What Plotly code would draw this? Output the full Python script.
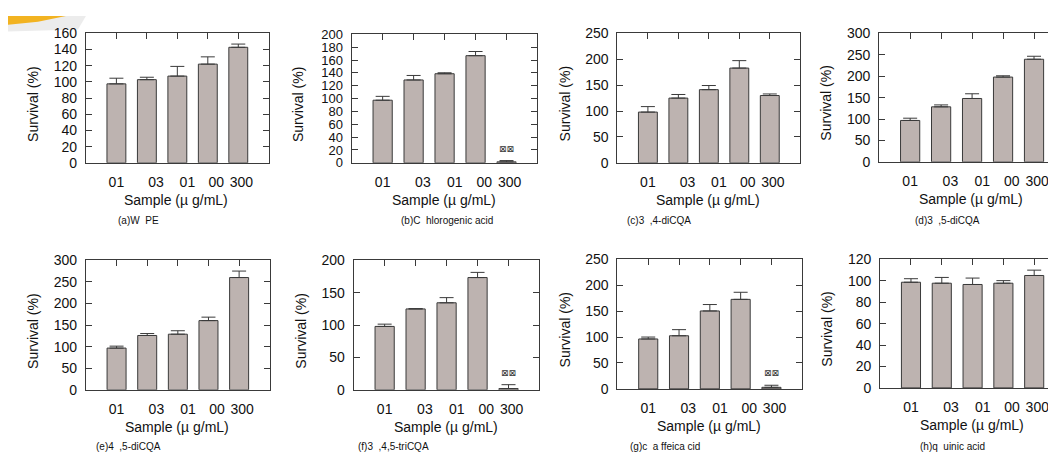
import plotly.graph_objects as go

W, H = 1056, 471

# ---------------- data ----------------
categories = ["01", "03", "01", "00", "300"]   # tick labels as printed
bar_index = [1, 2, 3, 4, 5]

captions = ["(a)W  PE", "(b)C  hlorogenic acid", "(c)3  ,4-diCQA", "(d)3  ,5-diCQA",
            "(e)4  ,5-diCQA", "(f)3  ,4,5-triCQA", "(g)c  a ffeica cid", "(h)q  uinic acid"]

vals_a = [97.6, 102.8, 107.2, 122.0, 142.8]
err_a = [7.0, 3.0, 12.0, 9.0, 4.0]
vals_b = [97.5, 129.0, 138.7, 166.8, 1.5]
err_b = [6.0, 7.0, 1.5, 6.5, 2.0]
vals_c = [98.0, 125.0, 141.3, 183.0, 130.0]
err_c = [10.6, 7.0, 8.0, 14.4, 3.0]
vals_d = [96.7, 128.5, 148.0, 198.0, 239.6]
err_d = [5.3, 4.5, 11.0, 3.0, 7.0]
vals_e = [96.8, 126.0, 129.0, 160.5, 260.3]
err_e = [4.5, 4.5, 8.0, 8.0, 15.0]
vals_f = [98.0, 125.0, 134.5, 173.5, 2.0]
err_f = [3.5, 0.5, 8.0, 8.0, 6.0]
vals_g = [96.4, 102.6, 150.5, 172.9, 3.0]
err_g = [3.7, 11.8, 12.4, 13.7, 4.0]
vals_h = [98.7, 97.8, 96.6, 97.8, 105.0]
err_h = [3.3, 5.4, 6.0, 2.4, 5.0]

values = [vals_a, vals_b, vals_c, vals_d, vals_e, vals_f, vals_g, vals_h]
errors = [err_a, err_b, err_c, err_d, err_e, err_f, err_g, err_h]
y_max = [160, 200, 250, 300, 300, 200, 250, 120]
y_dtick = [20, 20, 50, 50, 50, 50, 50, 20]
sig_mark = ["", "⊠⊠", "", "", "", "⊠⊠", "⊠⊠", ""]   # marker over last bar

# ---------------- layout geometry (pixels) ----------------
boxes = [  # left, right, top, bottom
    (78, 261, 18, 152), (344, 530, 19, 152), (610, 793, 18, 152), (872, 1058, 18, 151),
    (78, 262, 253, 387), (346, 532, 253, 387), (610, 795, 252, 386), (873, 1058, 252, 385),
]
label_pos = [1.0, 2.3, 3.33, 4.28, 5.1]   # where the printed x labels sit
caption_left = [108, 391, 618, 906, 86, 348, 621, 911]
caption_y = [212, 212, 212, 212, 446, 446, 446, 446]

FONT = "Liberation Sans, Arial, sans-serif"
FS = 14
BAR = "#bdb3b0"
EDGE = "#3a3a3a"

fig = go.Figure()
layout = dict(width=W, height=H, margin=dict(l=0, r=0, t=0, b=0),
              paper_bgcolor="white", plot_bgcolor="white", showlegend=False,
              font=dict(family=FONT, size=FS, color="#111"))
annotations = []

for i in range(8):
    l, r, t, b = boxes[i]
    n_bx = 2 * i + 1
    n_tx = 2 * i + 2
    ny = i + 1
    xr = r if r <= W else W
    unit = (r - l) / 6.0
    xmax = (xr - l) / unit
    dom_x = [l / W, xr / W]
    dom_y = [1 - b / H, 1 - t / H]
    xs = "" if n_bx == 1 else str(n_bx)
    xt = str(n_tx)
    ys = "" if ny == 1 else str(ny)
    yfs = 13 if y_max[i] / y_dtick[i] > 9 else FS

    fig.add_trace(go.Bar(
        x=bar_index, y=values[i], width=0.62,
        marker=dict(color=BAR, line=dict(color=EDGE, width=1)),
        error_y=dict(type="data", symmetric=False, array=errors[i],
                     arrayminus=[0] * 5, color=EDGE, thickness=1, width=7),
        xaxis="x" + xs, yaxis="y" + ys, hoverinfo="skip"))
    fig.add_trace(go.Scatter(
        x=bar_index, y=values[i], mode="markers", marker=dict(opacity=0),
        xaxis="x" + xt, yaxis="y" + ys, hoverinfo="skip"))

    layout["xaxis" + xs] = dict(
        domain=dom_x, anchor="y" + ys, range=[0, xmax],
        tickmode="array", tickvals=label_pos, ticktext=categories, tickangle=0,
        ticks="", showline=True, linecolor=EDGE, linewidth=1, mirror=True,
        showgrid=False, zeroline=False, ticklabelstandoff=6,
        tickfont=dict(family=FONT, size=FS, color="#111"))
    layout["xaxis" + xt] = dict(
        overlaying="x" + xs, anchor="y" + ys, side="top", range=[0, xmax],
        tickmode="array", tickvals=bar_index, ticks="inside", ticklen=6,
        tickcolor=EDGE, showticklabels=False, showline=False,
        showgrid=False, zeroline=False)
    layout["yaxis" + ys] = dict(
        domain=dom_y, anchor="x" + xs, range=[0, y_max[i]], dtick=y_dtick[i],
        ticks="inside", ticklen=6, tickcolor=EDGE, showline=True,
        linecolor=EDGE, linewidth=1, mirror="ticks", showgrid=False,
        zeroline=False, ticklabelstandoff=5,
        tickfont=dict(family=FONT, size=yfs, color="#111"))

    # axis titles
    annotations.append(dict(
        text="Survival (%)", xref="paper", yref="paper",
        x=(l - 53) / W, y=1 - ((t + b) / 2 + 6) / H, textangle=-90,
        showarrow=False, xanchor="center", yanchor="middle",
        font=dict(family=FONT, size=FS, color="#111")))
    annotations.append(dict(
        text="Sample (µ g/mL)", xref="paper", yref="paper",
        x=((l + r) / 2 - 1) / W, y=1 - (b + 38) / H,
        showarrow=False, xanchor="center", yanchor="middle",
        font=dict(family=FONT, size=FS, color="#111")))
    annotations.append(dict(
        text=captions[i], xref="paper", yref="paper",
        x=caption_left[i] / W, y=1 - caption_y[i] / H,
        showarrow=False, xanchor="left", yanchor="middle",
        font=dict(family=FONT, size=10, color="#111")))
    if sig_mark[i]:
        annotations.append(dict(
            text=sig_mark[i], xref="x" + xs, yref="y" + ys,
            x=bar_index[4], y=values[i][4] + errors[i][4],
            showarrow=False, xanchor="center", yanchor="middle", yshift=12,
            font=dict(family="DejaVu Sans", size=9, color="#333")))

# top-left page decoration
layout["shapes"] = [
    dict(type="path", xref="paper", yref="paper",
         path=f"M 0 1 L {78/W} 1 L {70/W} {1-14/H} L 0 {1-16/H} Z",
         fillcolor="#ececec", line=dict(width=0), layer="below"),
    dict(type="path", xref="paper", yref="paper",
         path=f"M 0 1 L {58/W} 1 L {30/W} {1-6/H} L 0 {1-9/H} Z",
         fillcolor="#f2b321", line=dict(width=0), layer="below"),
]
layout["annotations"] = annotations
fig.update_layout(**layout)
fig.write_html("out.html")
